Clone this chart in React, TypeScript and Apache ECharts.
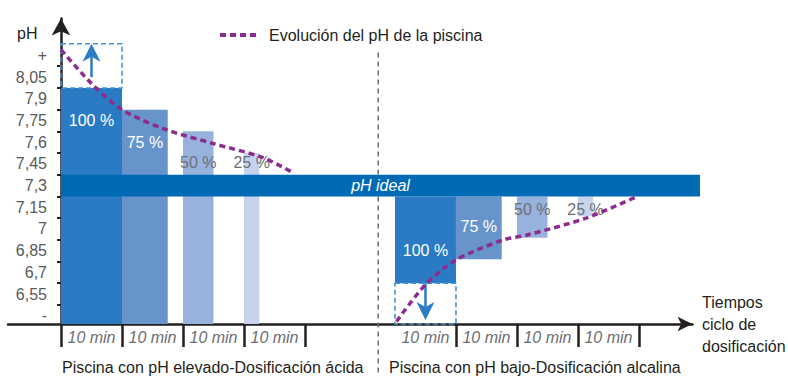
import React, { useEffect, useRef } from "react";
import * as echarts from "echarts";

const FONT = "'Liberation Sans', Arial, Helvetica, sans-serif";
const DARK = "#231f20";
const GREY = "#6d6e71";

// Y axis (pH) – labels sit in the middle of each band
const Y_TICK_VALUES = [6.4, 6.55, 6.7, 6.85, 7, 7.15, 7.3, 7.45, 7.6, 7.75, 7.9, 8.05, 8.2];
const Y_TICK_LABELS = ["-", "6,55", "6,7", "6,85", "7", "7,15", "7,3", "7,45", "7,6", "7,75", "7,9", "8,05", "+"];
const Y_MIN = 6.343;
const Y_MAX = 8.455;

// X axis – dosing cycles of 10 min
const SLOT_LABEL = "10 min";
const LEFT_SLOTS = [0, 1, 2, 3];
const RIGHT_SLOTS = [5.475, 6.475, 7.475, 8.475];
const X_MIN = -0.8689;
const X_MAX = 10.3525;

// Dosing bars
const DOSE_PCT = [100, 75, 50, 25];
const LEFT_TOP_PH = [7.975, 7.825, 7.675, 7.525];
const RIGHT_BOTTOM_PH = [6.625, 6.79, 6.94, 7.09];

// Ideal pH band
const IDEAL_PH = [7.225, 7.375];
const IDEAL_X = [0, 10.475];
const IDEAL_LABEL = "pH ideal";

// Starting points (annotation boxes / arrows)
const START_HIGH_PH = 8.28;
const ARROW_HIGH_FROM_PH = 8.05;
const ARROW_LOW_TIP_PH = 6.37;
const DIVIDER_X = 5.2;
const DIVIDER_TOP_PH = 8.22;

// pH evolution curves
const CURVE_NAME = "Evolución del pH de la piscina";
const CURVE_HIGH = [
  [0, 8.24], [0.5, 8.005], [1, 7.825], [1.7, 7.69], [2.5, 7.59], [3.3, 7.495], [3.8, 7.39],
];
const CURVE_LOW = [
  [5.5, 6.36], [5.97, 6.613], [6.475, 6.786], [7.25, 6.924], [7.64, 6.958], [8.62, 7.077], [9.44, 7.224],
];

const BOTTOM_LEFT = "Piscina con pH elevado-Dosificación ácida";
const BOTTOM_RIGHT = "Piscina con pH bajo-Dosificación alcalina";
const X_NAME = "Tiempos\nciclo de\ndosificación";

const BAR_COLORS: Record<number, string> = {
  100: "#2a7bc3",
  75: "#6894cc",
  50: "#97b2dd",
  25: "#c6d3ec",
};
const BAND_COLOR = "#006ab4";
const BOX_COLOR = "#4196d8";
const ARROW_COLOR = "#2a7dc5";
const CURVE_COLOR = "#8d2b8e";

function buildOption() {
  const barData: number[][] = [];
  DOSE_PCT.forEach((p, i) => barData.push([LEFT_SLOTS[i], p, Y_MIN, LEFT_TOP_PH[i], 0]));
  DOSE_PCT.forEach((p, i) => barData.push([RIGHT_SLOTS[i], p, RIGHT_BOTTOM_PH[i], IDEAL_PH[0], 1]));

  const yTickPos = Y_TICK_VALUES.slice(0, -1).map((v) => Math.round((v + 0.075) * 1000) / 1000);
  const xTickPos = [...LEFT_SLOTS, LEFT_SLOTS[LEFT_SLOTS.length - 1] + 1, ...RIGHT_SLOTS.map((s) => s + 1)];
  const xLabelPos = [...LEFT_SLOTS, ...RIGHT_SLOTS].map((s) => s + 0.5);

  const axisLineStyle = { color: DARK, width: 2.5 };

  return {
    animation: false,
    backgroundColor: "#ffffff",
    textStyle: { fontFamily: FONT },
    grid: { left: 8, right: 95.5, top: 18.5, bottom: 52, containLabel: false, outerBoundsMode: "none" },
    legend: {
      data: [{ name: CURVE_NAME, icon: "path://M0,0h6v4h-6z M10,0h6v4h-6z M20,0h6v4h-6z M30,0h6v4h-6z" }],
      left: 215,
      top: 22,
      itemWidth: 36,
      itemHeight: 4,
      selectedMode: false,
      itemStyle: { color: CURVE_COLOR },
      textStyle: { fontFamily: FONT, fontSize: 16, color: DARK, padding: [0, 0, 0, 8] },
    },
    xAxis: {
      type: "value",
      min: X_MIN,
      max: X_MAX,
      splitLine: { show: false },
      axisLine: {
        show: true,
        onZero: false,
        symbol: ["none", "arrow"],
        symbolSize: [11, 15],
        lineStyle: axisLineStyle,
      },
      axisTick: {
        show: true,
        length: 23,
        customValues: xTickPos,
        lineStyle: { color: DARK, width: 2.5 },
      },
      axisLabel: {
        customValues: xLabelPos,
        formatter: () => SLOT_LABEL,
        fontStyle: "italic",
        fontSize: 16,
        fontFamily: FONT,
        color: GREY,
        margin: 5,
      },
    },
    yAxis: {
      type: "value",
      min: Y_MIN,
      max: Y_MAX,
      offset: X_MIN * 61,
      splitLine: { show: false },
      axisLine: {
        show: true,
        onZero: false,
        symbol: ["none", "arrow"],
        symbolSize: [14, 17],
        lineStyle: axisLineStyle,
      },
      axisTick: {
        show: true,
        length: 4,
        customValues: yTickPos,
        lineStyle: { color: DARK, width: 2 },
      },
      axisLabel: {
        customValues: Y_TICK_VALUES,
        formatter: (v: number) => {
          const i = Y_TICK_VALUES.findIndex((t) => Math.abs(t - v) < 1e-6);
          return i >= 0 ? Y_TICK_LABELS[i] : "";
        },
        fontSize: 16,
        fontFamily: FONT,
        color: "#58595b",
        margin: 14,
      },
    },
    graphic: [
      { type: "text", x: 17, y: 33, style: { text: "pH", fill: DARK, fontSize: 16, fontFamily: FONT, verticalAlign: "middle" } },
      { type: "text", x: 62, y: 367.5, style: { text: BOTTOM_LEFT, fill: DARK, fontSize: 16, fontFamily: FONT, verticalAlign: "middle" } },
      { type: "text", x: 389, y: 367.5, style: { text: BOTTOM_RIGHT, fill: DARK, fontSize: 16, fontFamily: FONT, verticalAlign: "middle" } },
      { type: "text", x: 702, y: 324, style: { text: X_NAME, fill: DARK, fontSize: 16, fontFamily: FONT, lineHeight: 22, verticalAlign: "middle" } },
    ],
    series: [
      {
        type: "custom",
        name: "divider",
        z: 1,
        silent: true,
        clip: false,
        data: [[DIVIDER_X, DIVIDER_TOP_PH]],
        renderItem: (_p: any, api: any) => {
          const top = api.coord([api.value(0), api.value(1)]);
          return {
            type: "line",
            shape: { x1: top[0], y1: top[1], x2: top[0], y2: api.getHeight() },
            style: { stroke: GREY, lineWidth: 1.5, lineDash: [5, 4] },
          };
        },
      },
      {
        type: "custom",
        name: "dosis",
        z: 2,
        silent: true,
        clip: false,
        data: barData,
        renderItem: (_p: any, api: any) => {
          const x0 = api.value(0);
          const pct = api.value(1);
          const y0 = api.value(2);
          const y1 = api.value(3);
          const side = api.value(4);
          const tl = api.coord([x0, y1]);
          const br = api.coord([x0 + pct / 100, y0]);
          const labelPH =
            side === 0 ? Math.max(y1 - 0.225, IDEAL_PH[1] + 0.0825) : Math.min(y0 + 0.225, IDEAL_PH[0] - 0.09);
          const lp = api.coord([x0 + pct / 200, labelPH]);
          return {
            type: "group",
            children: [
              {
                type: "rect",
                shape: { x: tl[0], y: tl[1], width: br[0] - tl[0], height: br[1] - tl[1] },
                style: { fill: BAR_COLORS[pct] },
              },
              {
                type: "text",
                x: lp[0],
                y: lp[1],
                style: {
                  text: pct + " %",
                  fill: pct >= 75 ? "#ffffff" : GREY,
                  fontSize: 16,
                  fontFamily: FONT,
                  align: "center",
                  verticalAlign: "middle",
                },
              },
            ],
          };
        },
      },
      {
        type: "custom",
        name: "ideal",
        z: 3,
        silent: true,
        clip: false,
        data: [[IDEAL_X[0], IDEAL_X[1], IDEAL_PH[0], IDEAL_PH[1]]],
        renderItem: (_p: any, api: any) => {
          const tl = api.coord([api.value(0), api.value(3)]);
          const br = api.coord([api.value(1), api.value(2)]);
          return {
            type: "group",
            children: [
              {
                type: "rect",
                shape: { x: tl[0], y: tl[1], width: br[0] - tl[0], height: br[1] - tl[1] },
                style: { fill: BAND_COLOR },
              },
              {
                type: "text",
                x: (tl[0] + br[0]) / 2,
                y: (tl[1] + br[1]) / 2,
                style: {
                  text: IDEAL_LABEL,
                  fill: "#ffffff",
                  fontSize: 16,
                  fontStyle: "italic",
                  fontFamily: FONT,
                  align: "center",
                  verticalAlign: "middle",
                },
              },
            ],
          };
        },
      },
      {
        type: "custom",
        name: "start",
        z: 4,
        silent: true,
        clip: false,
        data: [[0]],
        renderItem: (_p: any, api: any) => {
          const boxStyle = { fill: "none", stroke: BOX_COLOR, lineWidth: 1.6, lineDash: [5, 3] };
          const hTL = api.coord([LEFT_SLOTS[0], START_HIGH_PH]);
          const hBR = api.coord([LEFT_SLOTS[0] + 1, LEFT_TOP_PH[0]]);
          const lTL = api.coord([RIGHT_SLOTS[0], RIGHT_BOTTOM_PH[0]]);
          const lBR = api.coord([RIGHT_SLOTS[0] + 1, Y_MIN]);
          const uBase = api.coord([LEFT_SLOTS[0] + 0.5, ARROW_HIGH_FROM_PH]);
          const uTip = api.coord([LEFT_SLOTS[0] + 0.5, START_HIGH_PH]);
          const dBase = api.coord([RIGHT_SLOTS[0] + 0.5, RIGHT_BOTTOM_PH[0]]);
          const dTip = api.coord([RIGHT_SLOTS[0] + 0.5, ARROW_LOW_TIP_PH]);
          const hw = 9;
          const hl = 18;
          const notch = 13;
          return {
            type: "group",
            children: [
              { type: "rect", shape: { x: hTL[0], y: hTL[1], width: hBR[0] - hTL[0], height: hBR[1] - hTL[1] }, style: boxStyle },
              { type: "rect", shape: { x: lTL[0], y: lTL[1], width: lBR[0] - lTL[0], height: lBR[1] - lTL[1] }, style: boxStyle },
              {
                type: "line",
                shape: { x1: uBase[0], y1: uBase[1], x2: uTip[0], y2: uTip[1] + notch },
                style: { stroke: ARROW_COLOR, lineWidth: 2.5 },
              },
              {
                type: "polygon",
                shape: {
                  points: [
                    [uTip[0], uTip[1]],
                    [uTip[0] + hw, uTip[1] + hl],
                    [uTip[0], uTip[1] + notch],
                    [uTip[0] - hw, uTip[1] + hl],
                  ],
                },
                style: { fill: ARROW_COLOR },
              },
              {
                type: "line",
                shape: { x1: dBase[0], y1: dBase[1], x2: dTip[0], y2: dTip[1] - notch },
                style: { stroke: ARROW_COLOR, lineWidth: 2.5 },
              },
              {
                type: "polygon",
                shape: {
                  points: [
                    [dTip[0], dTip[1]],
                    [dTip[0] + hw, dTip[1] - hl],
                    [dTip[0], dTip[1] - notch],
                    [dTip[0] - hw, dTip[1] - hl],
                  ],
                },
                style: { fill: ARROW_COLOR },
              },
            ],
          };
        },
      },
      {
        type: "line",
        name: CURVE_NAME,
        z: 5,
        data: CURVE_HIGH,
        smooth: 0.3,
        symbol: "none",
        silent: true,
        lineStyle: { color: CURVE_COLOR, width: 3.5, type: [6, 4] },
        itemStyle: { color: CURVE_COLOR },
      },
      {
        type: "line",
        name: CURVE_NAME,
        z: 5,
        data: CURVE_LOW,
        smooth: 0.3,
        symbol: "none",
        silent: true,
        lineStyle: { color: CURVE_COLOR, width: 3.5, type: [6, 4] },
        itemStyle: { color: CURVE_COLOR },
      },
    ],
  };
}

export default function App() {
  const ref = useRef<HTMLDivElement>(null);
  useEffect(() => {
    if (!ref.current) return;
    const chart = echarts.init(ref.current, null, { renderer: "svg" });
    chart.setOption(buildOption() as any);
    return () => {
      chart.dispose();
    };
  }, []);
  return (
    <div
      ref={ref}
      style={{ position: "fixed", left: 0, top: 0, width: 788, height: 376, background: "#fff" }}
    />
  );
}
